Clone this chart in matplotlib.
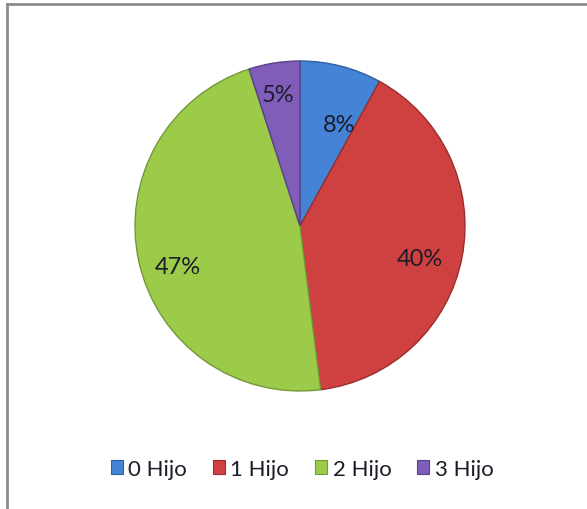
import matplotlib.pyplot as plt
from matplotlib.lines import Line2D
from matplotlib.patches import Rectangle

# data
categories = ['0 Hijo', '1 Hijo', '2 Hijo', '3 Hijo']
values = [8, 40, 47, 5]
colors = ['#4483D6', '#CF4140', '#9BCB48', '#7F5DB8']
edges = ['#2F5F9E', '#9A2E2D', '#74993A', '#5A4088']

plt.rcParams['font.family'] = ['Lato', 'DejaVu Sans']

fig = plt.figure(figsize=(5.87, 5.10), dpi=100)

# frame: only top and left edges visible in the reference
fig.add_artist(Line2D([6.5 / 587, 6.5 / 587], [0, 1 - 4.5 / 510],
                      transform=fig.transFigure, color='#8C8C8C', lw=2))
fig.add_artist(Line2D([6.5 / 587, 1], [1 - 4.5 / 510, 1 - 4.5 / 510],
                      transform=fig.transFigure, color='#8C8C8C', lw=2))

# pie: centre ~ (300, 227) px, radius ~ 165 px
cx, cy, r = 300, 227, 165
ax = fig.add_axes([(cx - r) / 587, 1 - (cy + r) / 510, 2 * r / 587, 2 * r / 510])
wedges, texts = ax.pie(values, colors=colors, startangle=90, counterclock=False,
                       wedgeprops=dict(linewidth=1.0))
for w, ec in zip(wedges, edges):
    w.set_edgecolor(ec)
ax.set_xlim(-1.0, 1.0)
ax.set_ylim(-1.0, 1.0)
ax.set_aspect('equal')

# percentage labels (Excel best-fit positions)
label_pos = [(339, 125), (420, 260), (178, 268), (278, 95)]
for (px, py), v in zip(label_pos, values):
    fig.text(px / 587, 1 - py / 510, f'{v}%', ha='center', va='center',
             fontsize=17, color='#1C1C2A')

# legend
handles = [Rectangle((0, 0), 1, 1, facecolor=c, edgecolor=e, lw=0.8)
           for c, e in zip(colors, edges)]
fig.legend(handles, categories, loc='center', bbox_to_anchor=(302 / 587, 1 - 470 / 510),
           ncol=4, frameon=False, fontsize=16, handlelength=0.55, handleheight=0.55,
           handletextpad=0.25, columnspacing=1.15, labelcolor='#1C1C2A')

fig.savefig('out.png', dpi=100, facecolor='white')
